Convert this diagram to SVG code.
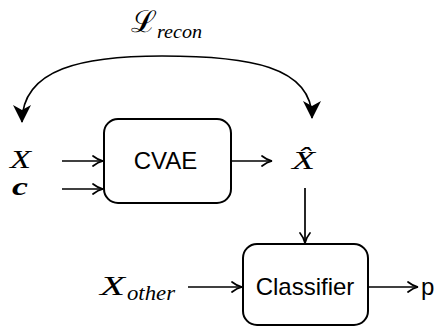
<svg xmlns="http://www.w3.org/2000/svg" width="440" height="328" viewBox="0 0 440 328">
<defs>
<marker id="open" markerWidth="14" markerHeight="14" refX="11" refY="6" orient="auto" markerUnits="userSpaceOnUse">
<path d="M1,1 Q6,5 11,6 Q6,7 1,11" fill="none" stroke="#000" stroke-width="1.7" stroke-linecap="round"/>
</marker>
<marker id="stealth" markerWidth="22" markerHeight="22" refX="17" refY="9" orient="auto" markerUnits="userSpaceOnUse">
<path d="M0,0 L18,9 L0,18 L5,9 Z" fill="#000"/>
</marker>
</defs>
<style>
.box{fill:#fff;stroke:#000;stroke-width:2}
.lbl{font-family:"Liberation Sans",Arial,sans-serif;font-size:24px;fill:#000}
.m{font-family:"Liberation Serif","Times New Roman",serif;font-style:italic;fill:#000}
.ln{fill:none;stroke:#000;stroke-width:1.7}
</style>
<g id="connectors">
<path class="ln" d="M162,56 C84,56 22,68 22,122" marker-end="url(#stealth)" stroke-width="2"/>
<path class="ln" d="M162,56 C248,56 312,66 312,118" marker-end="url(#stealth)" stroke-width="2"/>
<line class="ln" x1="62" y1="161" x2="103" y2="161" stroke-width="2.2" marker-end="url(#open)"/>
<line class="ln" x1="62" y1="189" x2="103" y2="189" marker-end="url(#open)"/>
<line class="ln" x1="232" y1="161" x2="272" y2="161" marker-end="url(#open)"/>
<line class="ln" x1="305" y1="188" x2="305" y2="243" marker-end="url(#open)"/>
<line class="ln" x1="188" y1="287" x2="242" y2="287" marker-end="url(#open)"/>
<line class="ln" x1="369" y1="287" x2="418" y2="287" marker-end="url(#open)"/>
</g>
<g id="loss">
<text x="131" y="32" font-family="'DejaVu Serif',serif" font-size="30" textLength="26" lengthAdjust="spacingAndGlyphs">ℒ</text>
<text class="m" x="157" y="38" font-size="19" textLength="45" lengthAdjust="spacingAndGlyphs">recon</text>
</g>
<g id="x">
<text class="m" x="10" y="168" font-size="25" textLength="21" lengthAdjust="spacingAndGlyphs">X</text>
</g>
<g id="c">
<text class="m" x="12" y="195" font-size="26" font-weight="bold" textLength="16" lengthAdjust="spacingAndGlyphs">c</text>
</g>
<g id="cvae">
<rect class="box" x="104" y="119" width="127" height="84" rx="14"/>
<text class="lbl" x="165.5" y="169" text-anchor="middle">CVAE</text>
</g>
<g id="xhat">
<text class="m" x="292" y="169" font-size="26" textLength="23" lengthAdjust="spacingAndGlyphs">X̂</text>
</g>
<g id="xother">
<text class="m" x="100" y="295" font-size="27" textLength="25" lengthAdjust="spacingAndGlyphs">X</text>
<text class="m" x="127" y="300" font-size="20" textLength="48" lengthAdjust="spacingAndGlyphs">other</text>
</g>
<g id="classifier">
<rect class="box" x="243" y="244" width="125" height="81" rx="14"/>
<text class="lbl" x="305" y="295" text-anchor="middle">Classifier</text>
</g>
<g id="p">
<text class="lbl" x="421" y="295">p</text>
</g>
</svg>
